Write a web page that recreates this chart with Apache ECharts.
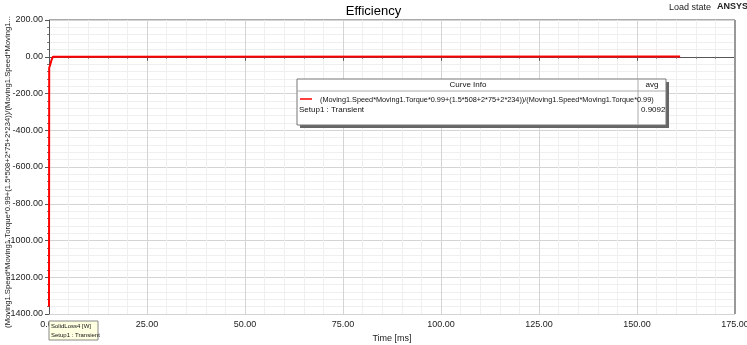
<!DOCTYPE html>
<html><head><meta charset="utf-8">
<script src="https://cdn.jsdelivr.net/npm/echarts@6/dist/echarts.min.js"></script>
<style>html,body{margin:0;padding:0;background:#fff}#c{width:747px;height:345px}</style>
</head><body><div id="c"></div>
<script>
const timeMs = [0, 0.05, 0.3, 0.6, 1.0, 1.5, 161];
const efficiency = [-1360, -60, -45, -20, 0, 0.9, 0.9];
const yTicks = {min: -1400, max: 200, interval: 200};
const xTicks = {min: 0, max: 175, interval: 25};
const seriesName = '(Moving1.Speed*Moving1.Torque*0.99+(1.5*508+2*75+2*234))/(Moving1.Speed*Moving1.Torque*0.99)';
const yName = '(Moving1.Speed*Moving1.Torque*0.99+(1.5*508+2*75+2*234))/(Moving1.Speed*Moving1...';
const avgValue = '0.9092';

const F = 'Liberation Sans, Arial, sans-serif';
const chart = echarts.init(document.getElementById('c'));
chart.setOption({
  animation: false,
  backgroundColor: '#fff',
  grid: {left: 49, right: 12, top: 20, bottom: 31, outerBoundsMode: 'none', containLabel: false},
  title: {text: 'Efficiency', left: 'center', top: 0, textStyle: {fontFamily: F, fontSize: 13, fontWeight: 'normal', color: '#000'}},
  xAxis: {
    type: 'value', min: xTicks.min, max: xTicks.max, interval: xTicks.interval,
    name: 'Time [ms]', nameLocation: 'middle', nameGap: 19,
    nameTextStyle: {fontFamily: F, fontSize: 9, color: '#222'},
    axisLine: {lineStyle: {color: '#555'}},
    axisTick: {length: 4, lineStyle: {color: '#555'}},
    minorTick: {show: true, splitNumber: 5, length: 2, lineStyle: {color: '#777'}},
    axisLabel: {fontFamily: F, fontSize: 9, color: '#222', margin: 6, formatter: v => v.toFixed(2)},
    splitLine: {show: true, lineStyle: {color: '#d4d4d4'}},
    minorSplitLine: {show: true, lineStyle: {color: '#efefef'}}
  },
  yAxis: {
    type: 'value', min: yTicks.min, max: yTicks.max, interval: yTicks.interval,
    axisLine: {show: true, lineStyle: {color: '#555'}},
    axisTick: {show: true, length: 4, lineStyle: {color: '#555'}},
    minorTick: {show: true, splitNumber: 5, length: 2, lineStyle: {color: '#777'}},
    axisLabel: {fontFamily: F, fontSize: 9, color: '#222', margin: 6, formatter: v => v.toFixed(2)},
    splitLine: {show: true, lineStyle: {color: '#d4d4d4'}},
    minorSplitLine: {show: true, lineStyle: {color: '#efefef'}}
  },
  series: [{
    type: 'line', name: seriesName, showSymbol: false, smooth: false,
    data: timeMs.map((t, i) => [t, efficiency[i]]),
    lineStyle: {color: '#ff0000', width: 2}
  }],
  graphic: [
    {type: 'text', x: 8, y: 172, rotation: Math.PI / 2, style: {text: yName, font: '7.7px ' + F, fill: '#222', align: 'center', verticalAlign: 'middle'}},
    {type: 'line', shape: {x1: 735, y1: 20, x2: 735, y2: 314}, style: {stroke: '#999', lineWidth: 2}, z: 50},
    {type: 'line', shape: {x1: 49, y1: 19.5, x2: 735, y2: 19.5}, style: {stroke: '#aaa', lineWidth: 1}, z: 50},
    {type: 'text', left: 669, top: 3, style: {text: 'Load state', font: '9px ' + F, fill: '#222'}},
    {type: 'text', left: 717, top: 2, style: {text: 'ANSYS', font: 'bold 9px ' + F, fill: '#222'}},
    // curve info box
    {type: 'rect', shape: {x: 300, y: 82, width: 369, height: 46}, style: {fill: '#666'}, z: 60},
    {type: 'rect', shape: {x: 297, y: 79, width: 369, height: 46}, style: {fill: '#fff', stroke: '#777', lineWidth: 1}, z: 61},
    {type: 'line', shape: {x1: 297, y1: 91, x2: 666, y2: 91}, style: {stroke: '#aaa', lineWidth: 1}, z: 62},
    {type: 'line', shape: {x1: 638, y1: 79, x2: 638, y2: 125}, style: {stroke: '#aaa', lineWidth: 1}, z: 62},
    {type: 'text', x: 468, y: 85, style: {text: 'Curve Info', font: '8px ' + F, fill: '#111', align: 'center', verticalAlign: 'middle'}, z: 63},
    {type: 'text', x: 652, y: 85, style: {text: 'avg', font: '8px ' + F, fill: '#111', align: 'center', verticalAlign: 'middle'}, z: 63},
    {type: 'line', shape: {x1: 300, y1: 99, x2: 312, y2: 99}, style: {stroke: '#ff0000', lineWidth: 1.5}, z: 63},
    {type: 'text', x: 320, y: 100, style: {text: seriesName, font: '7.3px ' + F, fill: '#111', verticalAlign: 'middle'}, z: 63},
    {type: 'text', x: 299, y: 110, style: {text: 'Setup1 : Transient', font: '8px ' + F, fill: '#111', verticalAlign: 'middle'}, z: 63},
    {type: 'text', x: 641, y: 110, style: {text: avgValue, font: '8px ' + F, fill: '#111', verticalAlign: 'middle'}, z: 63},
    // tooltip label at bottom-left
    {type: 'rect', shape: {x: 49, y: 321, width: 49, height: 19}, style: {fill: '#ffffe1', stroke: '#888', lineWidth: 1}, z: 70},
    {type: 'text', x: 51, y: 326, style: {text: 'SolidLoss4 [W]', font: '6px ' + F, fill: '#111', verticalAlign: 'middle'}, z: 71},
    {type: 'text', x: 51, y: 335, style: {text: 'Setup1 : Transient', font: '6px ' + F, fill: '#111', verticalAlign: 'middle'}, z: 71}
  ]
});
</script></body></html>
